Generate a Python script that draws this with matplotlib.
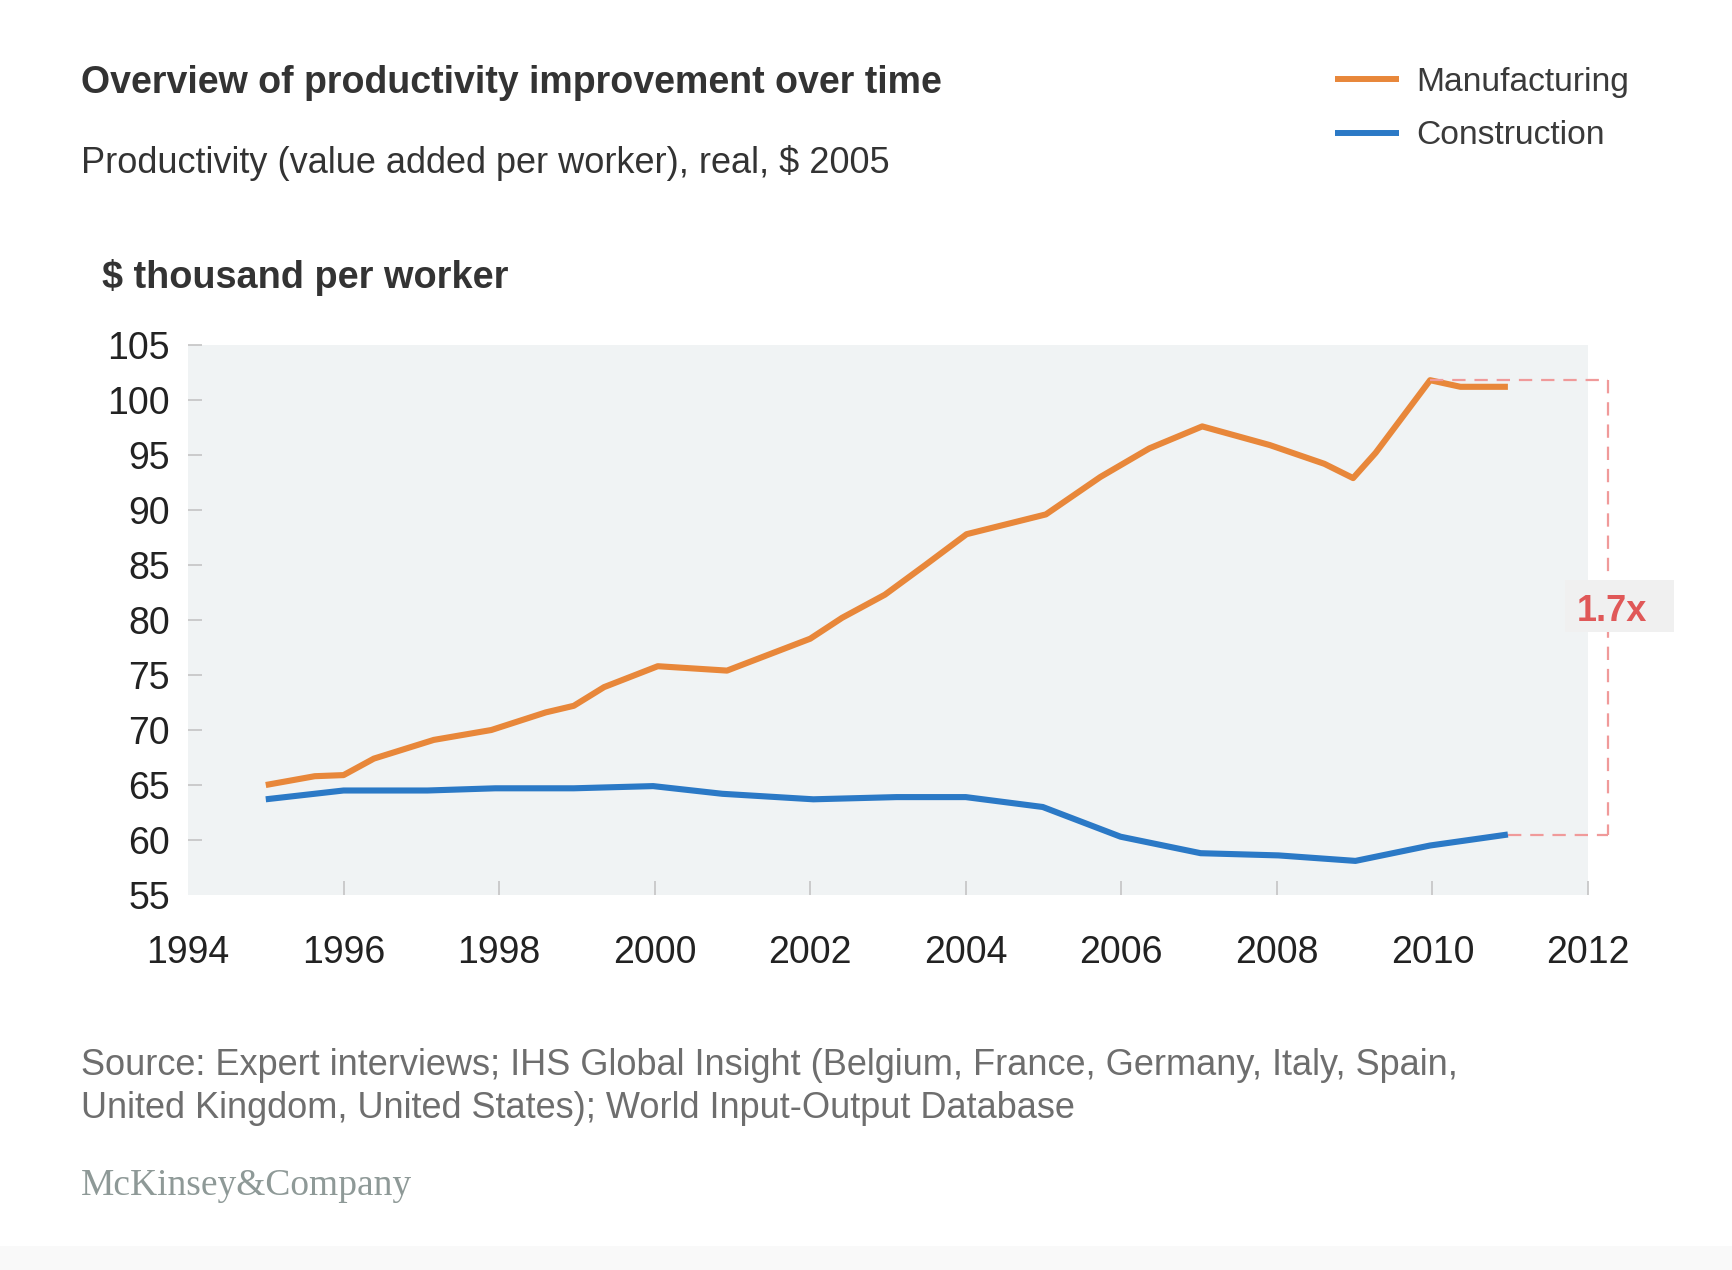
import matplotlib
matplotlib.use('Agg')
import matplotlib.pyplot as plt
from matplotlib.lines import Line2D
from matplotlib.patches import Rectangle

# ---------------- data ----------------
series_names = ['Manufacturing', 'Construction']
mfg_years = [1995.0, 1995.63, 1996.0, 1996.39, 1997.16, 1997.9, 1998.6, 1998.96, 1999.35,
             2000.04, 2000.93, 2002.0, 2002.41, 2002.96, 2003.48, 2004.01, 2005.03, 2005.73,
             2006.36, 2007.04, 2007.91, 2008.61, 2008.98, 2009.27, 2009.97, 2010.36, 2010.97]
mfg_values = [65.0, 65.8, 65.9, 67.4, 69.1, 70.0, 71.6, 72.2, 73.9,
              75.8, 75.4, 78.3, 80.2, 82.3, 85.0, 87.8, 89.6, 93.0,
              95.6, 97.6, 95.9, 94.2, 92.9, 95.2, 101.8, 101.2, 101.2]
con_years = [1995.0, 1996.0, 1997.08, 1997.95, 1998.96, 1999.98, 2000.87, 2002.04, 2003.11,
             2004.0, 2004.99, 2005.99, 2007.02, 2008.02, 2009.01, 2009.97, 2010.97]
con_values = [63.7, 64.5, 64.5, 64.7, 64.7, 64.9, 64.2, 63.7, 63.9,
              63.9, 63.0, 60.3, 58.8, 58.6, 58.1, 59.5, 60.5]
x_ticks = [1994, 1996, 1998, 2000, 2002, 2004, 2006, 2008, 2010, 2012]
y_ticks = [55, 60, 65, 70, 75, 80, 85, 90, 95, 100, 105]

title = 'Overview of productivity improvement over time'
subtitle = 'Productivity (value added per worker), real, $ 2005'
unit_label = '$ thousand per worker'
source_lines = ['Source: Expert interviews; IHS Global Insight (Belgium, France, Germany, Italy, Spain,',
                'United Kingdom, United States); World Input-Output Database']
brand = 'McKinsey&Company'

# ---------------- style ----------------
ORANGE = '#E8873A'
BLUE = '#2B79C6'
RED = '#E05858'
DASH = '#F09A9A'
TXT = '#333333'

plt.rcParams['font.family'] = ['Liberation Sans', 'DejaVu Sans']

W, H = 1732, 1270
fig = plt.figure(figsize=(W / 100, H / 100), dpi=100)
fig.patch.set_facecolor('white')


def fx(px):
    return px / W


def fy(py):
    return 1 - py / H


# faint bottom band
fig.patches.append(Rectangle((0, 0), 1, fy(1246), transform=fig.transFigure,
                             facecolor='#f9f9f9', edgecolor='none', zorder=0))

ax = fig.add_axes([fx(188), fy(895), fx(1588) - fx(188), fy(345) - fy(895)])
ax.set_facecolor('#F0F3F4')
for s in ax.spines.values():
    s.set_visible(False)

ax.plot(mfg_years, mfg_values, color=ORANGE, lw=4.4, zorder=3, solid_capstyle='butt')
ax.plot(con_years, con_values, color=BLUE, lw=4.4, zorder=3, solid_capstyle='butt')

ax.set_xlim(1994, 2012)
ax.set_ylim(55, 105)
ax.set_xticks(x_ticks)
ax.set_yticks(y_ticks)
ax.tick_params(axis='both', direction='in', length=10, width=1.2, color='#c4c4c4',
               labelsize=27, labelcolor='#222222')
ax.tick_params(axis='y', pad=13)
ax.tick_params(axis='x', pad=29)
# no tick marks at the bottom-left corner
ax.xaxis.get_major_ticks()[0].tick1line.set_visible(False)
ax.yaxis.get_major_ticks()[0].tick1line.set_visible(False)

# ratio bracket
top_i = mfg_values.index(max(mfg_values))
top = mfg_values[top_i]
bot = con_values[-1]
bx = 2012.26
dash_kw = dict(color=DASH, lw=1.6, dashes=(6, 4), clip_on=False, zorder=4)
ax.plot([mfg_years[top_i], bx], [top, top], **dash_kw)
ax.plot([bx, bx], [top, bot], **dash_kw)
ax.plot([con_years[-1], bx], [bot, bot], **dash_kw)
ratio = mfg_values[-1] / con_values[-1]
ax.add_patch(Rectangle((2011.71, 78.9), 1.40, 4.7, facecolor='#F0F0F0', edgecolor='none',
                       clip_on=False, zorder=5))
ax.text(2012.31, 79.95, f'{ratio:.1f}x', ha='center', va='baseline', fontsize=26,
        fontweight='bold', color=RED, zorder=6, clip_on=False)

# titles
fig.text(fx(80.6), fy(93), title, fontsize=27, fontweight='bold', color=TXT, va='baseline')
fig.text(fx(80.6), fy(173), subtitle, fontsize=26, color=TXT, va='baseline')
fig.text(fx(101.6), fy(288), unit_label, fontsize=27.3, fontweight='bold', color=TXT, va='baseline')

# legend
for i, (name, col) in enumerate(zip(series_names, [ORANGE, BLUE])):
    yl = 79.3 + 54 * i
    fig.add_artist(Line2D([fx(1335), fx(1399)], [fy(yl), fy(yl)], color=col, lw=4.3,
                          transform=fig.transFigure, solid_capstyle='butt'))
    fig.text(fx(1416.7), fy(90.5 + 54 * i), name, fontsize=24.2, color='#3a3a3a', va='baseline')

# source
fig.text(fx(80.6), fy(1075), source_lines[0], fontsize=26, color='#6e6e6e', va='baseline')
fig.text(fx(80.6), fy(1118), source_lines[1], fontsize=26, color='#6e6e6e', va='baseline')
fig.text(fx(81), fy(1195), brand, family=['Liberation Serif', 'DejaVu Serif'], fontsize=27,
         color='#8e9997', va='baseline')

fig.savefig('out.png', dpi=100, facecolor='white')
